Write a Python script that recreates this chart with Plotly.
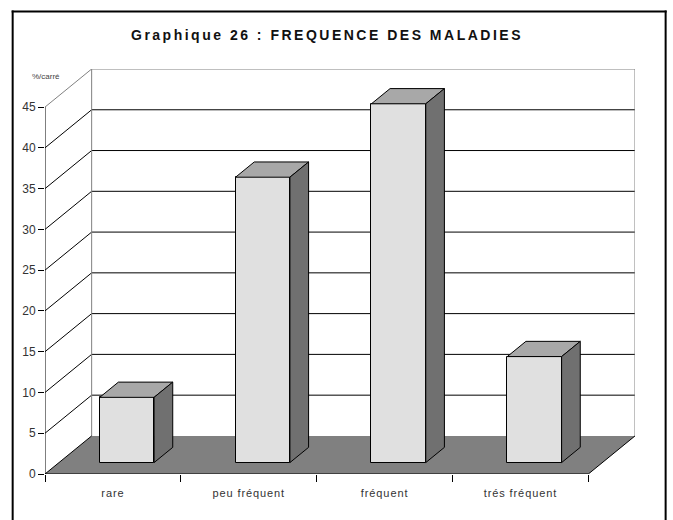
import plotly.graph_objects as go

categories = ["rare", "peu fréquent", "fréquent", "trés fréquent"]
values = [8, 35, 44, 13]
y_ticks = [0, 5, 10, 15, 20, 25, 30, 35, 40, 45]
title_text = "Graphique 26 : FREQUENCE DES MALADIES"
unit_label = "%/carré"

# figure geometry (pixels)
W, H = 673, 520
L, R, B, T = 45.3, 634.7, 474.3, 68.5
CAT_PX = 135.7
VAL_PX = 8.17
DEPTH_X = (R - L - 4 * CAT_PX) / CAT_PX      # oblique depth in category units
DEPTH_Y = (B - T - 45 * VAL_PX) / VAL_PX     # oblique depth in value units
X_MAX = 4 + DEPTH_X
Y_MAX = 45 + DEPTH_Y
BAR_W = 0.4
D0, D1 = 0.3, 0.7


def pj(x, v, d=0.0):
    return x + d * DEPTH_X, v + d * DEPTH_Y


def path(points):
    return "M " + " L ".join(f"{x:.5f},{y:.5f}" for x, y in points) + " Z"


def seg(p, q, color="#000000", width=1):
    return dict(type="line", xref="x", yref="y", layer="below",
                x0=p[0], y0=p[1], x1=q[0], y1=q[1],
                line=dict(color=color, width=width))


shapes = []
# floor
shapes.append(dict(type="path", xref="x", yref="y", layer="below",
                   path=path([pj(0, 0), pj(4, 0), pj(4, 0, 1), pj(0, 0, 1)]),
                   fillcolor="#808080", line=dict(width=0)))
# walls' gridlines
for v in y_ticks[1:]:
    c = "#808080" if v == 45 else "#000000"
    shapes.append(seg(pj(0, v), pj(0, v, 1), c))
    shapes.append(seg(pj(0, v, 1), pj(4, v, 1), c))
shapes.append(seg(pj(0, 0, 1), pj(0, 45, 1), "#808080"))
shapes.append(seg(pj(4, 0, 1), pj(4, 45, 1), "#808080"))
# floor edges and axis lines
shapes.append(seg(pj(0, 0), pj(4, 0)))
shapes.append(seg(pj(0, 0), pj(0, 0, 1)))
shapes.append(seg(pj(4, 0), pj(4, 0, 1)))
shapes.append(seg(pj(0, 0), pj(0, 45)))


# outer frame (paper coordinates)
def px(x):
    return (x - L) / (R - L)


def py(y):
    return (B - y) / (B - T)


FRAME = (13, 11, 665.3, 530)
for (x0, y0, x1, y1) in [(FRAME[0] - 1, FRAME[1], FRAME[2] + 1, FRAME[1]),
                         (FRAME[0], FRAME[1] - 1, FRAME[0], FRAME[3]),
                         (FRAME[2], FRAME[1] - 1, FRAME[2], FRAME[3])]:
    shapes.append(dict(type="line", xref="paper", yref="paper",
                       x0=px(x0), y0=py(y0), x1=px(x1), y1=py(y1),
                       line=dict(color="#000000", width=2)))

fig = go.Figure()
centers = [i + 0.5 for i in range(len(categories))]

# front faces
fig.add_trace(go.Bar(
    x=[pj(c, 0, D0)[0] for c in centers], y=values,
    base=[pj(0, 0, D0)[1]] * len(values), width=BAR_W,
    marker=dict(color="#E0E0E0", line=dict(color="#000000", width=1)),
    hoverinfo="skip", showlegend=False))

# top and side faces
for c, v in zip(centers, values):
    a, b = c - BAR_W / 2, c + BAR_W / 2
    top = [pj(a, v, D0), pj(b, v, D0), pj(b, v, D1), pj(a, v, D1), pj(a, v, D0)]
    side = [pj(b, 0, D0), pj(b, 0, D1), pj(b, v, D1), pj(b, v, D0), pj(b, 0, D0)]
    for face, col in ((top, "#A8A8A8"), (side, "#707070")):
        fig.add_trace(go.Scatter(
            x=[p[0] for p in face], y=[p[1] for p in face],
            mode="lines", fill="toself", fillcolor=col,
            line=dict(color="#000000", width=1),
            hoverinfo="skip", showlegend=False))

fig.update_layout(
    width=W, height=H, autosize=False,
    margin=dict(l=L, r=W - R, t=T, b=H - B, pad=0),
    paper_bgcolor="#FFFFFF", plot_bgcolor="rgba(0,0,0,0)",
    font=dict(family="Liberation Sans, Arial, sans-serif", color="#222222", size=11),
    bargap=0, shapes=shapes,
    title=dict(text=f"<b>{title_text}</b>", x=327 / W, xanchor="center",
               y=1 - 35 / H, yanchor="middle",
               font=dict(size=14, color="#111111")),
    xaxis=dict(range=[0, X_MAX], showgrid=False, zeroline=False, showline=False,
               tickmode="array", tickvals=centers, ticktext=categories,
               ticks="outside", ticklen=9, tickcolor="rgba(0,0,0,0)",
               tickfont=dict(size=11, color="#333333"),
               minor=dict(tickmode="array", tickvals=[0, 1, 2, 3, 4], ticks="outside",
                          ticklen=7, tickcolor="#000000", tickwidth=1)),
    yaxis=dict(range=[0, Y_MAX], showgrid=False, zeroline=False, showline=False,
               tickmode="array", tickvals=y_ticks, ticks="outside", ticklen=6,
               tickcolor="#000000", tickwidth=1,
               tickfont=dict(size=12, color="#333333")),
    annotations=[dict(text=unit_label, xref="paper", yref="paper",
                      x=px(46), y=py(76), xanchor="center", yanchor="middle",
                      showarrow=False, font=dict(size=8, color="#444444"))],
)

post = """
var s=document.createElement('style');
s.textContent='html,body{margin:0;padding:0;overflow:hidden}.gtitle{letter-spacing:2.5px}.xtick text{letter-spacing:.9px}';
document.head.appendChild(s);
"""
fig.write_html("out.html", post_script=post, config=dict(displayModeBar=False))
